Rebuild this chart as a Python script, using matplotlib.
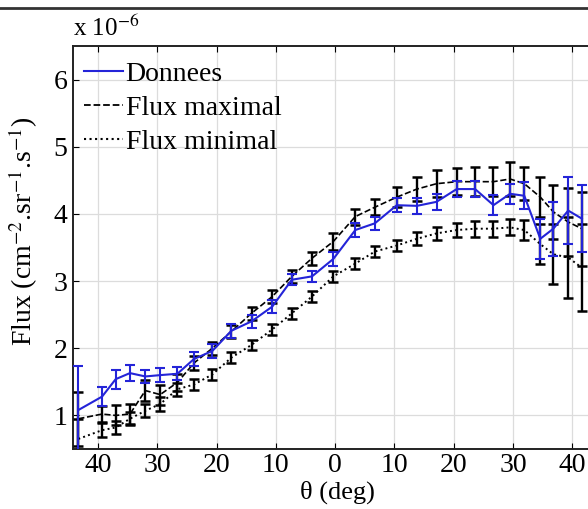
import matplotlib
matplotlib.use("Agg")
import matplotlib.pyplot as plt
from matplotlib.lines import Line2D

# Angular positions (deg) and measured / modelled fluxes (units of 1e-6 cm^-2 sr^-1 s^-1)
theta = [-43.3, -39.3, -37.0, -34.6, -32.0, -29.5, -26.6, -23.8, -20.7, -17.5,
         -14.1, -10.6, -7.3, -3.9, -0.3, 3.4, 6.7, 10.4, 13.8, 17.1,
         20.5, 23.6, 26.7, 29.5, 31.9, 34.6, 36.8, 39.3, 41.6]

donnees = [1.08, 1.28, 1.54, 1.63, 1.58, 1.60, 1.62, 1.84, 1.96, 2.26,
           2.40, 2.62, 3.02, 3.07, 3.33, 3.76, 3.86, 4.13, 4.12, 4.18,
           4.37, 4.37, 4.13, 4.30, 4.27, 3.63, 3.78, 4.05, 3.93]
err_donnees = [0.65, 0.14, 0.14, 0.12, 0.10, 0.10, 0.10, 0.10, 0.10, 0.10,
               0.10, 0.10, 0.08, 0.08, 0.10, 0.10, 0.10, 0.10, 0.12, 0.12,
               0.12, 0.12, 0.15, 0.15, 0.20, 0.30, 0.40, 0.50, 0.50]

flux_max = [0.95, 1.02, 1.00, 1.02, 1.37, 1.31, 1.49, 1.78, 2.00, 2.25,
            2.52, 2.77, 3.07, 3.34, 3.59, 3.96, 4.10, 4.25, 4.37, 4.45,
            4.48, 4.48, 4.48, 4.52, 4.45, 4.25, 4.03, 3.88, 3.78]
err_max = [0.40, 0.12, 0.15, 0.15, 0.15, 0.15, 0.12, 0.10, 0.10, 0.10,
           0.10, 0.10, 0.10, 0.10, 0.12, 0.12, 0.12, 0.15, 0.18, 0.20,
           0.20, 0.22, 0.22, 0.25, 0.25, 0.30, 0.40, 0.50, 0.55]

flux_min = [0.65, 0.78, 0.82, 0.95, 1.07, 1.17, 1.39, 1.46, 1.61, 1.86,
            2.05, 2.28, 2.52, 2.77, 3.07, 3.26, 3.44, 3.53, 3.63, 3.71,
            3.76, 3.78, 3.78, 3.80, 3.76, 3.55, 3.40, 3.35, 3.20]
err_min = [0.30, 0.10, 0.10, 0.10, 0.10, 0.10, 0.10, 0.08, 0.08, 0.08,
           0.08, 0.08, 0.08, 0.08, 0.08, 0.08, 0.08, 0.08, 0.10, 0.10,
           0.10, 0.12, 0.12, 0.12, 0.15, 0.30, 0.45, 0.60, 0.65]

xticks = [-40, -30, -20, -10, 0, 10, 20, 30, 40]
xtick_labels = ["40", "30", "20", "10", "0", "10", "20", "30", "40"]
yticks = [1, 2, 3, 4, 5, 6]

legend_labels = ["Donnees", "Flux maximal", "Flux minimal"]

plt.rcParams["font.family"] = ["Liberation Serif", "DejaVu Serif"]
plt.rcParams["mathtext.fontset"] = "stix"

FS = 20
W, H = 588, 509
fig = plt.figure(figsize=(W / 100, H / 100), dpi=100)
ax = fig.add_axes([73 / W, 60 / H, (602 - 73) / W, (449 - 46) / H])

blue = "#2424d8"
ax.errorbar(theta, flux_max, yerr=err_max, color="black", ls="--", lw=1.2,
            capsize=3.5, capthick=1.8, elinewidth=1.7, zorder=3)
ax.errorbar(theta, flux_min, yerr=err_min, color="black", ls=":", lw=1.4,
            capsize=3.5, capthick=1.8, elinewidth=1.7, zorder=3)
ax.errorbar(theta, donnees, yerr=err_donnees, color=blue, ls="-", lw=1.5,
            capsize=3.5, capthick=1.5, elinewidth=1.5, zorder=4)

ax.set_xlim(-44.2, 45)
ax.set_ylim(0.5, 6.5)
ax.set_xticks(xticks)
ax.set_xticklabels(xtick_labels)
ax.set_yticks(yticks)
ax.tick_params(direction="in", length=4, width=0.8, labelsize=FS,
               top=True, right=True)
ax.tick_params(axis="x", pad=3)
ax.tick_params(axis="y", pad=4)
ax.grid(True, color="#dcdcdc", lw=0.9, ls="-")
ax.set_axisbelow(True)
for sp in ax.spines.values():
    sp.set_linewidth(1.4)
    sp.set_color("#222222")

ax.set_xlabel("θ (deg)", fontsize=19, labelpad=2)
ax.set_ylabel(r"Flux (cm$^{-2}$.sr$^{-1}$.s$^{-1}$)", fontsize=FS)
ax.yaxis.set_label_coords(-0.062, 0.54)
fig.text(73 / W, 1 - 28 / H, r"x 10$^{-6}$", fontsize=18, va="center", ha="left")

handles = [Line2D([], [], color=blue, ls="-", lw=1.5),
           Line2D([], [], color="black", ls="--", lw=1.3),
           Line2D([], [], color="black", ls=":", lw=1.5)]
ax.legend(handles, legend_labels, loc="upper left", frameon=False, fontsize=FS,
          handlelength=1.4, handletextpad=0.1, labelspacing=0.3,
          borderaxespad=0.0, borderpad=0.2, bbox_to_anchor=(0.01, 0.975))

# rule across the top of the page
fig.add_artist(Line2D([0, 1], [1 - 8 / H, 1 - 8 / H], transform=fig.transFigure,
                      color="#333333", lw=2.0))

fig.savefig("out.png", dpi=100)
